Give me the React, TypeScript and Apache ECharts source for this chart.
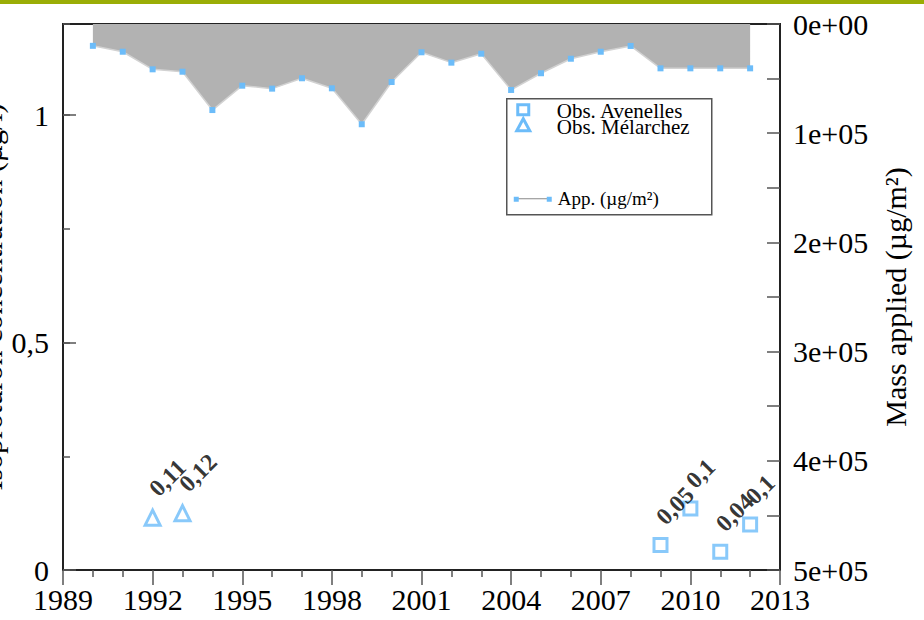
import React, { useEffect, useRef } from "react";
import * as echarts from "echarts";

const appYears = [1990, 1991, 1992, 1993, 1994, 1995, 1996, 1997, 1998, 1999, 2000, 2001, 2002, 2003, 2004, 2005, 2006, 2007, 2008, 2009, 2010, 2011, 2012];
const appMass = [20000, 25400, 41500, 43700, 78800, 56500, 59200, 49700, 58900, 91800, 53100, 25900, 35400, 27200, 60400, 45100, 31800, 25400, 20100, 40600, 40600, 40600, 40600];

const avenYears = [2009, 2010, 2011, 2012];
const avenConc = [0.055, 0.135, 0.04, 0.1];
const avenLabels = ["0,05", "0,1", "0,04", "0,1"];

const melYears = [1992, 1993];
const melConc = [0.115, 0.125];
const melLabels = ["0,11", "0,12"];

const FONT = "'Liberation Serif', 'Times New Roman', serif";
const BLUE = "#6cbcf9";

function expFmt(v: number): string {
  const s = v.toExponential(0);
  const [m, e] = s.split("e");
  const sign = e[0];
  const digits = e.slice(1).padStart(2, "0");
  return `${m}e${sign}${digits}`;
}

export default function App() {
  const ref = useRef<HTMLDivElement>(null);
  useEffect(() => {
    if (!ref.current) return;
    const chart = echarts.init(ref.current, null, { renderer: "svg" });
    const labelStyle = {
      show: true,
      rotate: 45,
      align: "left",
      verticalAlign: "bottom",
      fontFamily: FONT,
      fontWeight: "bold",
      fontSize: 24,
      color: "#000",
    };
    chart.setOption({
      animation: false,
      backgroundColor: "#fff",
      textStyle: { fontFamily: FONT },
      grid: {
        left: 63,
        right: 144,
        top: 24,
        bottom: 50,
        containLabel: false,
        outerBoundsMode: "none",
        show: true,
        borderColor: "#222",
        borderWidth: 2,
        backgroundColor: "transparent",
      },
      xAxis: [
        {
          type: "value",
          min: 1989,
          max: 2013,
          interval: 3,
          axisLine: { show: true, lineStyle: { color: "#222", width: 2 } },
          axisTick: { show: true, inside: false, length: 15, lineStyle: { color: "#555", width: 1.5 } },
          minorTick: { show: true, splitNumber: 3, length: 7, lineStyle: { color: "#555", width: 1.5 } },
          splitLine: { show: false },
          axisLabel: { fontFamily: FONT, fontSize: 30, color: "#000", margin: 14, hideOverlap: false, formatter: (v: number) => String(v) },
        },
      ],
      yAxis: [
        {
          type: "value",
          min: 0,
          max: 1.2,
          interval: 0.5,
          position: "left",
          name: "Isoproturon concentration (µg/l)",
          nameLocation: "middle",
          nameGap: 57,
          nameMoveOverlap: false,
          nameRotate: 90,
          nameTextStyle: { fontFamily: FONT, fontSize: 30, color: "#000" },
          axisLine: { show: true, lineStyle: { color: "#222", width: 2 } },
          axisTick: { show: true, inside: true, length: 13, lineStyle: { color: "#555", width: 1.5 } },
          splitLine: { show: false },
          axisLabel: {
            fontFamily: FONT,
            fontSize: 30,
            color: "#000",
            margin: 14,
            showMaxLabel: false,
            formatter: (v: number) => String(v).replace(".", ","),
          },
        },
        {
          type: "value",
          min: 0,
          max: 500000,
          interval: 100000,
          inverse: true,
          position: "right",
          name: "Mass applied (µg/m²)",
          nameLocation: "middle",
          nameGap: 100,
          nameRotate: 90,
          nameTextStyle: { fontFamily: FONT, fontSize: 30, color: "#000" },
          axisLine: { show: true, lineStyle: { color: "#222", width: 2 } },
          axisTick: { show: true, inside: true, length: 13, lineStyle: { color: "#555", width: 1.5 } },
          minorTick: { show: true, splitNumber: 2, length: 13, lineStyle: { color: "#555", width: 1.5 } },
          splitLine: { show: false },
          axisLabel: { fontFamily: FONT, fontSize: 30, color: "#000", margin: 13, formatter: (v: number) => expFmt(v) },
        },
        {
          type: "value",
          min: 0,
          max: 1.2,
          interval: 0.25,
          position: "left",
          axisLine: { show: false },
          axisTick: { show: true, inside: true, length: 7, lineStyle: { color: "#555", width: 1.5 } },
          axisLabel: { show: false },
          splitLine: { show: false },
        },
      ],
      series: [
        {
          type: "line",
          name: "App.",
          yAxisIndex: 1,
          data: appYears.map((y, i) => [y, appMass[i]]),
          symbol: "rect",
          symbolSize: 6,
          showAllSymbol: true,
          itemStyle: { color: BLUE },
          lineStyle: { color: "#d2d2d2", width: 1.5 },
          areaStyle: { color: "#b2b2b2", opacity: 1, origin: "start" },
          z: 2,
        },
        {
          type: "scatter",
          name: "Obs. Avenelles",
          yAxisIndex: 0,
          data: avenYears.map((y, i) => [y, avenConc[i]]),
          symbol: "rect",
          symbolSize: 13,
          itemStyle: { color: "rgba(0,0,0,0)", borderColor: BLUE, borderWidth: 3 },
          label: { ...labelStyle, position: [16, -8], formatter: (p: any) => avenLabels[p.dataIndex] },
          z: 3,
        },
        {
          type: "scatter",
          name: "Obs. Mélarchez",
          yAxisIndex: 0,
          data: melYears.map((y, i) => [y, melConc[i]]),
          symbol: "triangle",
          symbolSize: 15,
          itemStyle: { color: "rgba(0,0,0,0)", borderColor: BLUE, borderWidth: 3 },
          label: { ...labelStyle, position: [18, -8], formatter: (p: any) => melLabels[p.dataIndex] },
          z: 3,
        },
      ],
      graphic: [
        { type: "rect", left: 0, top: 0, shape: { width: 924, height: 4 }, style: { fill: "#9aad06" }, z: 10 },
        {
          type: "group",
          left: 506,
          top: 98,
          z: 20,
          children: [
            { type: "rect", x: 0, y: 0, shape: { width: 205, height: 116 }, style: { fill: "#fff", stroke: "#555", lineWidth: 1.5 } },
            { type: "rect", x: 11, y: 6, shape: { width: 11, height: 10 }, style: { fill: "none", stroke: BLUE, lineWidth: 3 } },
            { type: "polygon", shape: { points: [[16.5, 20], [10, 32], [23, 32]] }, style: { fill: "none", stroke: BLUE, lineWidth: 3 } },
            { type: "text", x: 50, y: 12, style: { text: "Obs. Avenelles", font: `21px ${FONT}`, fill: "#000", verticalAlign: "middle" } },
            { type: "text", x: 50, y: 28, style: { text: "Obs. Mélarchez", font: `21px ${FONT}`, fill: "#000", verticalAlign: "middle" } },
            { type: "line", shape: { x1: 9, y1: 100, x2: 43, y2: 100 }, style: { stroke: "#888", lineWidth: 1.2 } },
            { type: "rect", x: 7, y: 98, shape: { width: 5, height: 5 }, style: { fill: BLUE } },
            { type: "rect", x: 40, y: 98, shape: { width: 5, height: 5 }, style: { fill: BLUE } },
            { type: "text", x: 51, y: 100, style: { text: "App. (µg/m²)", font: `19px ${FONT}`, fill: "#000", verticalAlign: "middle" } },
          ],
        },
      ],
    });
    return () => chart.dispose();
  }, []);
  return (
    <>
      <style>{`#chartbox text { font-family: 'Liberation Serif', 'Times New Roman', serif !important; }`}</style>
      <div id="chartbox" ref={ref} style={{ position: "fixed", left: 0, top: 0, width: 924, height: 620 }} />
    </>
  );
}
